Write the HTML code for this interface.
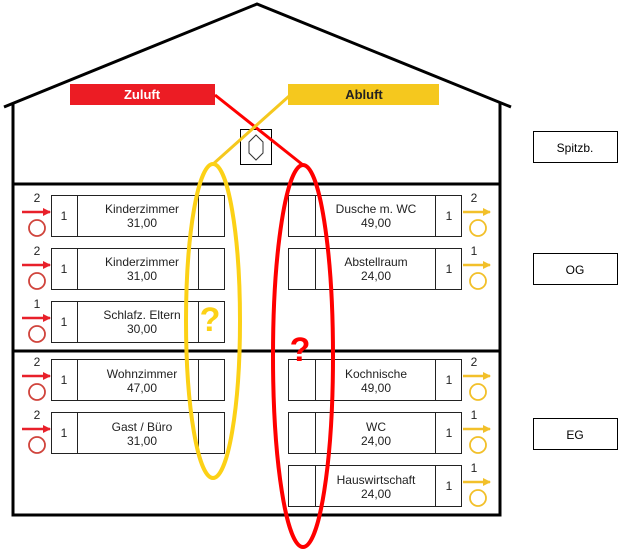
<!DOCTYPE html>
<html><head><meta charset="utf-8"><style>
html,body{margin:0;padding:0;background:#fff;}
svg{display:block;font-family:"Liberation Sans",Arial,sans-serif;}
</style></head><body>
<svg width="624" height="550" viewBox="0 0 624 550" xmlns="http://www.w3.org/2000/svg">
<defs>
<marker id="ar" markerWidth="8" markerHeight="8" refX="7" refY="4" orient="auto" markerUnits="userSpaceOnUse"><path d="M0,0 L8,4 L0,8 Z" fill="#e8202a"/></marker>
<marker id="ay" markerWidth="8" markerHeight="8" refX="7" refY="4" orient="auto" markerUnits="userSpaceOnUse"><path d="M0,0 L8,4 L0,8 Z" fill="#f2c02a"/></marker>
</defs>
<!-- roof -->
<polyline points="4,107 257,4 511,107" fill="none" stroke="#000" stroke-width="3"/>
<!-- walls -->
<polyline points="13,103 13,515 500,515 500,103" fill="none" stroke="#000" stroke-width="3"/>
<line x1="12" y1="184" x2="501" y2="184" stroke="#000" stroke-width="3"/>
<line x1="12" y1="351" x2="501" y2="351" stroke="#000" stroke-width="3"/>
<!-- labels -->
<rect x="70" y="84" width="145" height="21" fill="#ec1c24"/>
<text x="142" y="99" text-anchor="middle" font-size="13" font-weight="bold" fill="#fff">Zuluft</text>
<rect x="288" y="84" width="151" height="21" fill="#f5c81e"/>
<text x="364" y="99" text-anchor="middle" font-size="13" font-weight="bold" fill="#222">Abluft</text>
<!-- device -->
<rect x="240.5" y="129.5" width="31" height="35" fill="#fff" stroke="#000"/>
<polygon points="256,135 263,142 263,153 256,160 249,153 249,142" fill="none" stroke="#333"/>
<!-- lines -->
<line x1="215" y1="95" x2="303" y2="165" stroke="#f00" stroke-width="3"/>
<line x1="297" y1="89" x2="212" y2="165" stroke="#f5c81e" stroke-width="3"/>
<!-- side boxes -->
<rect x="533.5" y="131.5" width="84" height="31" fill="#fff" stroke="#000"/>
<text x="575" y="152" text-anchor="middle" font-size="12">Spitzb.</text>
<rect x="533.5" y="253.5" width="84" height="31" fill="#fff" stroke="#000"/>
<text x="575" y="274" text-anchor="middle" font-size="12">OG</text>
<rect x="533.5" y="418.5" width="84" height="31" fill="#fff" stroke="#000"/>
<text x="575" y="439" text-anchor="middle" font-size="12">EG</text>

<g font-size="12" fill="#222" stroke-width="1.2">
<!-- left rooms -->
<g id="L">
</g>
</g>
<!-- Left rooms -->
<g font-size="12" fill="#222">
<rect x="51.5" y="195.5" width="173" height="41" fill="#fff" stroke="#222"/><line x1="77.5" y1="195" x2="77.5" y2="237" stroke="#222"/><line x1="198.5" y1="195" x2="198.5" y2="237" stroke="#222"/>
<text x="64" y="220" text-anchor="middle">1</text><text x="142" y="213" text-anchor="middle">Kinderzimmer</text><text x="142" y="227" text-anchor="middle">31,00</text>
<rect x="51.5" y="248.5" width="173" height="41" fill="#fff" stroke="#222"/><line x1="77.5" y1="248" x2="77.5" y2="290" stroke="#222"/><line x1="198.5" y1="248" x2="198.5" y2="290" stroke="#222"/>
<text x="64" y="273" text-anchor="middle">1</text><text x="142" y="266" text-anchor="middle">Kinderzimmer</text><text x="142" y="280" text-anchor="middle">31,00</text>
<rect x="51.5" y="301.5" width="173" height="41" fill="#fff" stroke="#222"/><line x1="77.5" y1="301" x2="77.5" y2="343" stroke="#222"/><line x1="198.5" y1="301" x2="198.5" y2="343" stroke="#222"/>
<text x="64" y="326" text-anchor="middle">1</text><text x="142" y="319" text-anchor="middle">Schlafz. Eltern</text><text x="142" y="333" text-anchor="middle">30,00</text>
<rect x="51.5" y="359.5" width="173" height="41" fill="#fff" stroke="#222"/><line x1="77.5" y1="359" x2="77.5" y2="401" stroke="#222"/><line x1="198.5" y1="359" x2="198.5" y2="401" stroke="#222"/>
<text x="64" y="384" text-anchor="middle">1</text><text x="142" y="378" text-anchor="middle">Wohnzimmer</text><text x="142" y="392" text-anchor="middle">47,00</text>
<rect x="51.5" y="412.5" width="173" height="41" fill="#fff" stroke="#222"/><line x1="77.5" y1="412" x2="77.5" y2="454" stroke="#222"/><line x1="198.5" y1="412" x2="198.5" y2="454" stroke="#222"/>
<text x="64" y="437" text-anchor="middle">1</text><text x="142" y="431" text-anchor="middle">Gast / Büro</text><text x="142" y="445" text-anchor="middle">31,00</text>
<!-- left indicators -->
<text x="37" y="202" text-anchor="middle">2</text><line x1="22" y1="212" x2="50" y2="212" stroke="#e8202a" stroke-width="2.5" marker-end="url(#ar)"/><circle cx="37" cy="228" r="8" fill="none" stroke="#d0443c" stroke-width="1.8"/>
<text x="37" y="255" text-anchor="middle">2</text><line x1="22" y1="265" x2="50" y2="265" stroke="#e8202a" stroke-width="2.5" marker-end="url(#ar)"/><circle cx="37" cy="281" r="8" fill="none" stroke="#d0443c" stroke-width="1.8"/>
<text x="37" y="308" text-anchor="middle">1</text><line x1="22" y1="318" x2="50" y2="318" stroke="#e8202a" stroke-width="2.5" marker-end="url(#ar)"/><circle cx="37" cy="334" r="8" fill="none" stroke="#d0443c" stroke-width="1.8"/>
<text x="37" y="366" text-anchor="middle">2</text><line x1="22" y1="376" x2="50" y2="376" stroke="#e8202a" stroke-width="2.5" marker-end="url(#ar)"/><circle cx="37" cy="392" r="8" fill="none" stroke="#d0443c" stroke-width="1.8"/>
<text x="37" y="419" text-anchor="middle">2</text><line x1="22" y1="429" x2="50" y2="429" stroke="#e8202a" stroke-width="2.5" marker-end="url(#ar)"/><circle cx="37" cy="445" r="8" fill="none" stroke="#d0443c" stroke-width="1.8"/>

<!-- Right rooms -->
<rect x="288.5" y="195.5" width="173" height="41" fill="#fff" stroke="#222"/><line x1="315.5" y1="195" x2="315.5" y2="237" stroke="#222"/><line x1="435.5" y1="195" x2="435.5" y2="237" stroke="#222"/>
<text x="449" y="220" text-anchor="middle">1</text><text x="376" y="213" text-anchor="middle">Dusche m. WC</text><text x="376" y="227" text-anchor="middle">49,00</text>
<rect x="288.5" y="248.5" width="173" height="41" fill="#fff" stroke="#222"/><line x1="315.5" y1="248" x2="315.5" y2="290" stroke="#222"/><line x1="435.5" y1="248" x2="435.5" y2="290" stroke="#222"/>
<text x="449" y="273" text-anchor="middle">1</text><text x="376" y="266" text-anchor="middle">Abstellraum</text><text x="376" y="280" text-anchor="middle">24,00</text>
<rect x="288.5" y="359.5" width="173" height="41" fill="#fff" stroke="#222"/><line x1="315.5" y1="359" x2="315.5" y2="401" stroke="#222"/><line x1="435.5" y1="359" x2="435.5" y2="401" stroke="#222"/>
<text x="449" y="384" text-anchor="middle">1</text><text x="376" y="378" text-anchor="middle">Kochnische</text><text x="376" y="392" text-anchor="middle">49,00</text>
<rect x="288.5" y="412.5" width="173" height="41" fill="#fff" stroke="#222"/><line x1="315.5" y1="412" x2="315.5" y2="454" stroke="#222"/><line x1="435.5" y1="412" x2="435.5" y2="454" stroke="#222"/>
<text x="449" y="437" text-anchor="middle">1</text><text x="376" y="431" text-anchor="middle">WC</text><text x="376" y="445" text-anchor="middle">24,00</text>
<rect x="288.5" y="465.5" width="173" height="41" fill="#fff" stroke="#222"/><line x1="315.5" y1="465" x2="315.5" y2="507" stroke="#222"/><line x1="435.5" y1="465" x2="435.5" y2="507" stroke="#222"/>
<text x="449" y="490" text-anchor="middle">1</text><text x="376" y="484" text-anchor="middle">Hauswirtschaft</text><text x="376" y="498" text-anchor="middle">24,00</text>
<!-- right indicators -->
<text x="474" y="202" text-anchor="middle">2</text><line x1="463" y1="212" x2="490" y2="212" stroke="#f2c02a" stroke-width="2.5" marker-end="url(#ay)"/><circle cx="478" cy="228" r="8" fill="none" stroke="#f2c02a" stroke-width="1.8"/>
<text x="474" y="255" text-anchor="middle">1</text><line x1="463" y1="265" x2="490" y2="265" stroke="#f2c02a" stroke-width="2.5" marker-end="url(#ay)"/><circle cx="478" cy="281" r="8" fill="none" stroke="#f2c02a" stroke-width="1.8"/>
<text x="474" y="366" text-anchor="middle">2</text><line x1="463" y1="376" x2="490" y2="376" stroke="#f2c02a" stroke-width="2.5" marker-end="url(#ay)"/><circle cx="478" cy="392" r="8" fill="none" stroke="#f2c02a" stroke-width="1.8"/>
<text x="474" y="419" text-anchor="middle">1</text><line x1="463" y1="429" x2="490" y2="429" stroke="#f2c02a" stroke-width="2.5" marker-end="url(#ay)"/><circle cx="478" cy="445" r="8" fill="none" stroke="#f2c02a" stroke-width="1.8"/>
<text x="474" y="472" text-anchor="middle">1</text><line x1="463" y1="482" x2="490" y2="482" stroke="#f2c02a" stroke-width="2.5" marker-end="url(#ay)"/><circle cx="478" cy="498" r="8" fill="none" stroke="#f2c02a" stroke-width="1.8"/>
</g>
<!-- ellipses -->
<ellipse cx="213" cy="321" rx="27" ry="157" fill="none" stroke="#fcd116" stroke-width="4"/>
<ellipse cx="303" cy="356" rx="30" ry="191" fill="none" stroke="#f00" stroke-width="4"/>
<text x="210" y="331" text-anchor="middle" font-size="34" font-weight="bold" fill="#fcd116">?</text>
<text x="300" y="361" text-anchor="middle" font-size="34" font-weight="bold" fill="#f00">?</text>
</svg>
</body></html>
